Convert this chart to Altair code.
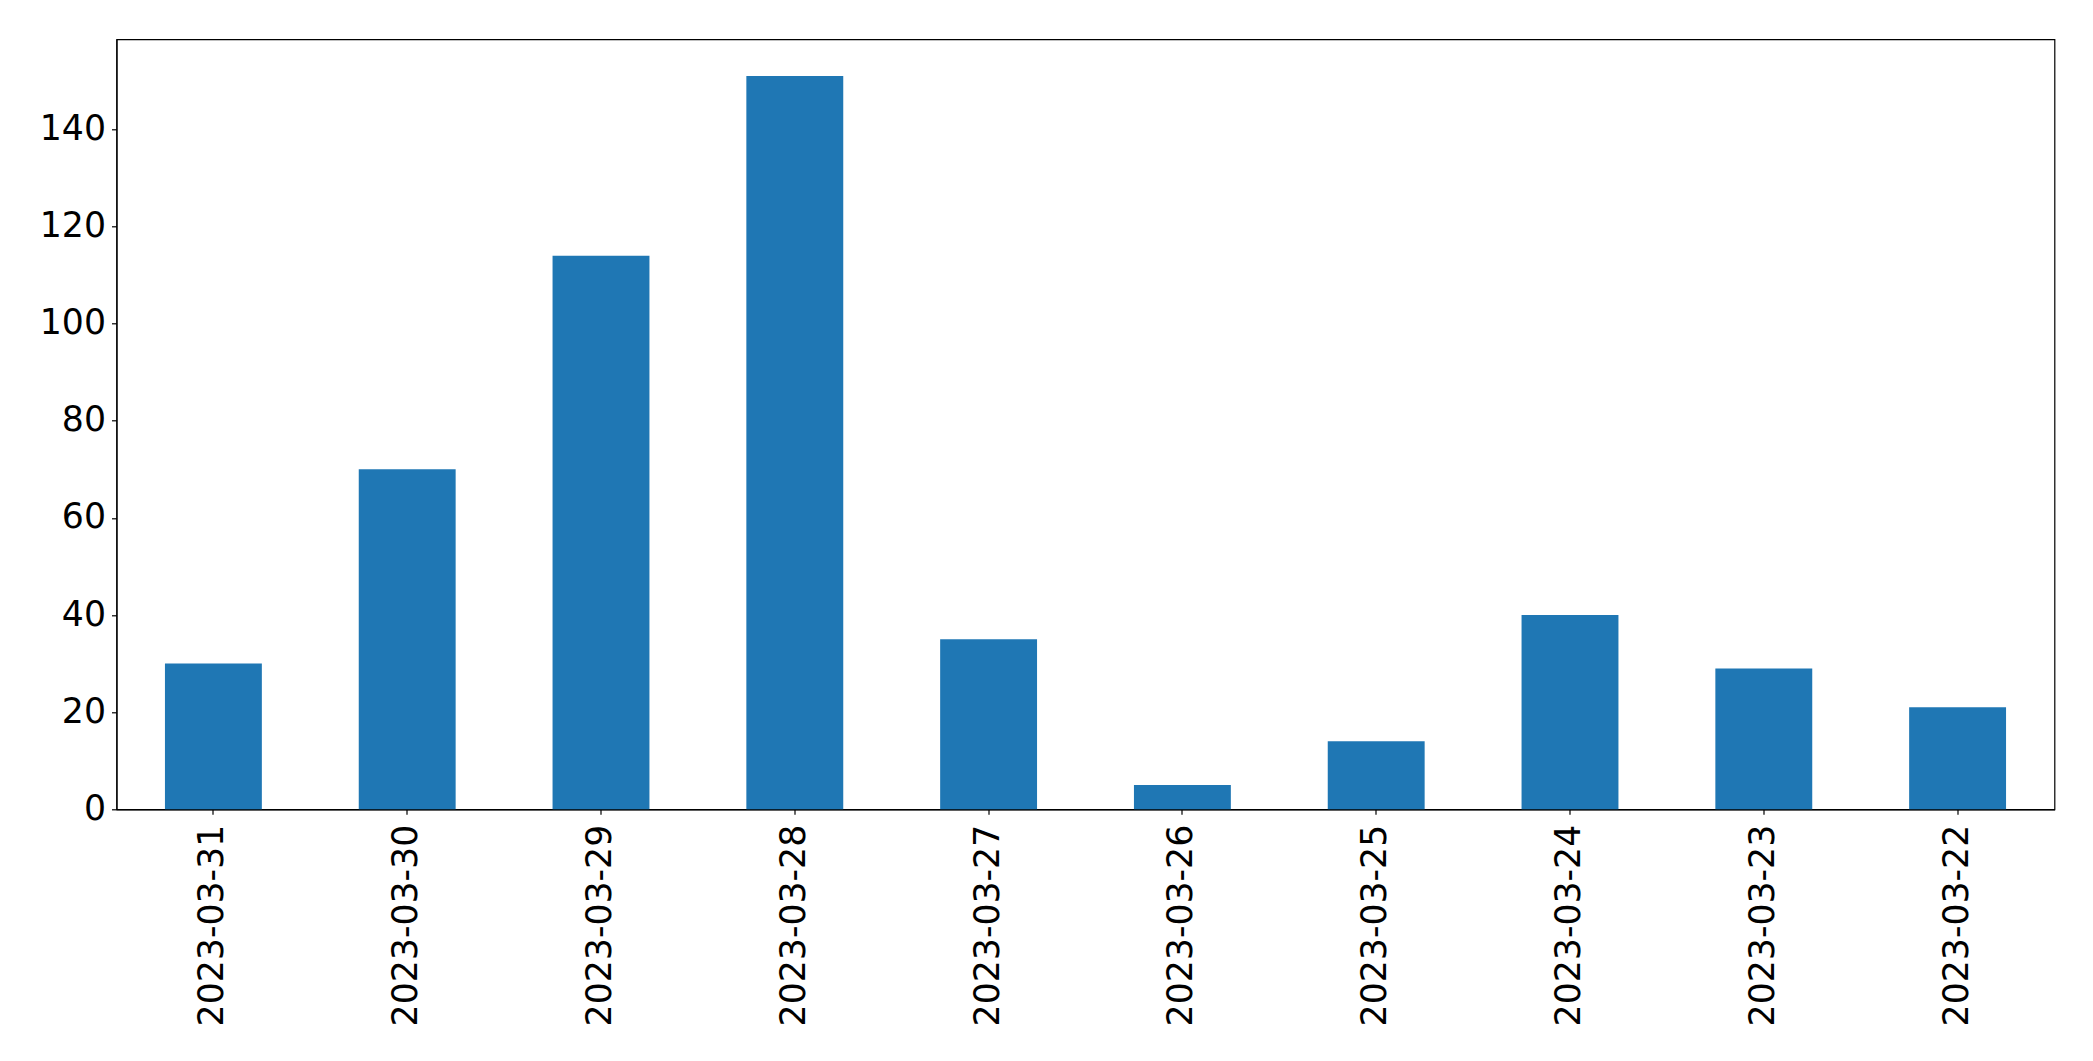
import altair as alt
import pandas as pd

dates = ["2023-03-31", "2023-03-30", "2023-03-29", "2023-03-28", "2023-03-27",
         "2023-03-26", "2023-03-25", "2023-03-24", "2023-03-23", "2023-03-22"]
counts = [30, 70, 114, 151, 35, 5, 14, 40, 29, 21]
y_ticks = [0, 20, 40, 60, 80, 100, 120, 140]

df = pd.DataFrame({"date": dates, "count": counts})

chart = alt.Chart(df).mark_bar(color="#1f77b4").encode(
    x=alt.X("date:N", sort=dates, title=None,
            scale=alt.Scale(paddingInner=0.5, paddingOuter=0.25),
            axis=alt.Axis(labelAngle=270, labelAlign="right", labelBaseline="middle",
                          labelPadding=10, tickSize=5, labelFontSize=34.7,
                          labelFont="DejaVu Sans", labelColor="black", labelLimit=0,
                          domainColor="black", tickColor="black", labelOverlap=False)),
    y=alt.Y("count:Q", title=None,
            scale=alt.Scale(domain=[0, 158.55], nice=False, zero=True),
            axis=alt.Axis(values=y_ticks, tickSize=5, labelPadding=6, labelFontSize=34.7,
                          labelFont="DejaVu Sans", labelColor="black", grid=False,
                          domainColor="black", tickColor="black", labelFlush=False)),
).properties(
    width=1938, height=770,
    autosize=alt.AutoSizeParams(type="none"),
    padding={"left": 108.5, "top": 31.3, "right": 30, "bottom": 240},
).configure_view(
    stroke="black", strokeWidth=1.2
).configure_axis(
    domainWidth=1.2, tickWidth=1.2
)

chart.save("out.html", embed_options={"renderer": "svg", "actions": False})
